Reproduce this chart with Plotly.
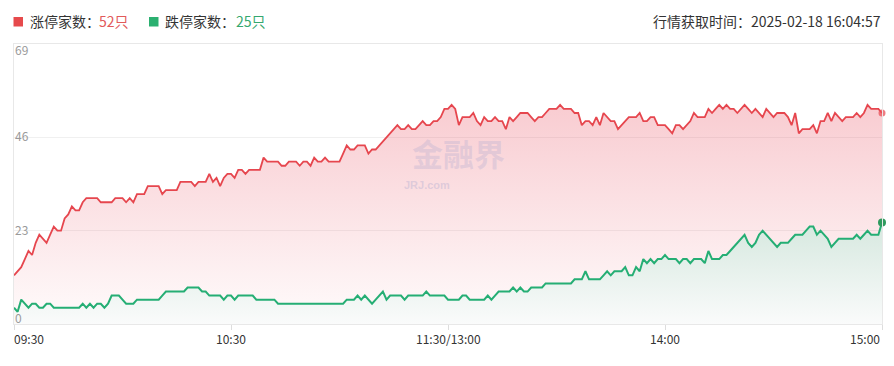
import plotly.graph_objects as go

# minutes since 09:30 (trading minutes; 11:30/13:00 merged at 120)
minutes = list(range(241))

limit_up = [
    12, 13, 14, 16, 18, 17, 20, 22, 21, 20, 22, 24, 23, 23, 26, 27, 29, 28, 28, 30,
    31, 31, 31, 31, 30, 30, 30, 30, 31, 31, 31, 30, 31, 30, 32, 32, 32, 34, 34, 34,
    34, 32, 33, 33, 33, 33, 35, 35, 35, 35, 34, 35, 35, 35, 37, 35, 36, 34, 36, 37,
    37, 36, 38, 38, 37, 38, 38, 38, 38, 41, 40, 40, 40, 40, 39, 39, 40, 40, 40, 39,
    40, 40, 39, 41, 40, 40, 41, 40, 40, 40, 40, 42, 44, 43, 43, 44, 44, 44, 42, 43,
    43, 44, 45, 46, 47, 48, 49, 48, 48, 49, 48, 48, 49, 50, 49, 49, 50, 50, 51, 53,
    53, 54, 53, 49, 51, 51, 51, 52, 50, 49, 51, 50, 50, 51, 50, 50, 48, 51, 50, 51,
    52, 52, 52, 51, 50, 51, 51, 52, 53, 53, 53, 54, 53, 53, 53, 52, 52, 49, 50, 50,
    49, 51, 49, 52, 51, 50, 50, 48, 49, 50, 51, 51, 51, 52, 50, 50, 51, 51, 49, 49,
    49, 48, 47, 49, 49, 48, 49, 50, 52, 51, 51, 51, 53, 52, 53, 54, 53, 54, 53, 53,
    52, 53, 54, 53, 52, 53, 52, 51, 53, 52, 51, 52, 52, 52, 51, 49, 52, 47, 48, 48,
    48, 49, 47, 50, 50, 52, 50, 52, 51, 50, 51, 51, 51, 52, 51, 52, 54, 53, 53, 53,
    52,
]

limit_down = [
    4, 3, 6, 5, 4, 5, 5, 4, 4, 5, 5, 4, 4, 4, 4, 4, 4, 4, 4, 5,
    4, 5, 4, 5, 5, 4, 5, 7, 7, 7, 6, 5, 5, 5, 6, 6, 6, 6, 6, 6,
    6, 7, 8, 8, 8, 8, 8, 8, 9, 9, 9, 9, 8, 8, 7, 7, 7, 7, 6, 7,
    7, 6, 7, 7, 7, 7, 7, 6, 6, 6, 6, 6, 6, 5, 5, 5, 5, 5, 5, 5,
    5, 5, 5, 5, 5, 5, 5, 5, 5, 5, 5, 5, 6, 6, 6, 7, 6, 7, 6, 5,
    6, 7, 8, 6, 7, 7, 7, 7, 6, 7, 7, 7, 7, 7, 8, 7, 7, 7, 7, 7,
    6, 6, 6, 6, 7, 7, 6, 6, 6, 6, 6, 7, 6, 7, 8, 8, 8, 8, 9, 8,
    9, 8, 8, 9, 9, 9, 9, 10, 10, 10, 10, 10, 10, 10, 10, 11, 11, 11, 13, 11,
    11, 11, 11, 12, 13, 12, 13, 13, 13, 14, 12, 12, 14, 13, 16, 15, 16, 15, 16, 16,
    17, 16, 16, 16, 15, 16, 16, 15, 16, 16, 16, 15, 18, 16, 16, 16, 17, 17, 18, 19,
    20, 21, 22, 20, 19, 20, 22, 23, 22, 21, 20, 19, 20, 20, 20, 21, 22, 22, 22, 23,
    24, 24, 22, 23, 22, 21, 19, 20, 21, 21, 21, 21, 21, 22, 21, 22, 23, 22, 22, 22,
    25,
]

x_tick_vals = [0, 60, 120, 180, 240]
x_tick_text = ["09:30", "10:30", "11:30/13:00", "14:00", "15:00"]
y_tick_vals = [0, 23, 46, 69]

up_label = "涨停家数："
down_label = "跌停家数："
up_count = "52只"
down_count = "25只"
time_text = "行情获取时间：2025-02-18 16:04:57"

RED = "#e6464e"
GREEN = "#25ae74"
FONT = "Noto Sans CJK SC, Noto Sans, sans-serif"

# page body has an 8px margin; figure sized / laid out to compensate
OFF = 8
W, H = 894 - OFF, 366 - OFF
L, R, T, B = 14 - OFF, 12, 44 - OFF, 42


def px_x(p):
    """page pixel x -> paper coordinate"""
    return (p - OFF - L) / (W - L - R)


def px_y(p):
    """page pixel y -> paper coordinate"""
    return (H - B - (p - OFF)) / (H - T - B)


fig = go.Figure()

fig.add_trace(go.Scatter(
    x=minutes, y=limit_up, mode="lines",
    line=dict(color=RED, width=1.8),
    fill="tozeroy",
    fillgradient=dict(type="vertical",
                      colorscale=[[0, "rgba(232,72,90,0.02)"], [1, "rgba(232,72,90,0.28)"]]),
    hoverinfo="skip", showlegend=False,
))
fig.add_trace(go.Scatter(
    x=minutes, y=limit_down, mode="lines",
    line=dict(color=GREEN, width=2),
    fill="tozeroy",
    fillgradient=dict(type="vertical",
                      colorscale=[[0, "rgb(250,251,251)"], [1, "rgb(214,232,223)"]]),
    hoverinfo="skip", showlegend=False,
))
# end markers
fig.add_trace(go.Scatter(
    x=[minutes[-1]], y=[limit_up[-1]], mode="markers",
    marker=dict(color="rgba(232,80,88,0.75)", size=7, line=dict(width=0)),
    hoverinfo="skip", showlegend=False, cliponaxis=False,
))
fig.add_trace(go.Scatter(
    x=[minutes[-1]], y=[limit_down[-1]], mode="markers",
    marker=dict(color="#2f9a5e", size=8, line=dict(width=0)),
    hoverinfo="skip", showlegend=False, cliponaxis=False,
))

annotations = []
# y labels
y_shifts = {0: 7, 23: 1, 46: 2, 69: -5}
for v in y_tick_vals:
    annotations.append(dict(
        x=0, xref="paper", y=v, yref="y", text=str(v), showarrow=False,
        xanchor="left", yanchor="middle", xshift=-1, yshift=y_shifts[v],
        font=dict(family=FONT, size=12, color="#9a9a9a"),
    ))
# x labels
for i, (v, t) in enumerate(zip(x_tick_vals, x_tick_text)):
    anchor = "left" if i == 0 else ("right" if i == len(x_tick_vals) - 1 else "center")
    annotations.append(dict(
        x=v, xref="x", y=0, yref="paper", text=t, showarrow=False,
        xanchor=anchor, yanchor="top", yshift=-4, xshift=-2 if i == 0 else 0,
        font=dict(family=FONT, size=12, color="#333333"),
    ))
# watermark
annotations.append(dict(
    x=122.8, xref="x", y=42.2, yref="y", text="<b>金融界</b>",
    showarrow=False, xanchor="center", yanchor="middle",
    font=dict(family=FONT, size=31, color="rgba(178,172,208,0.33)"),
))
annotations.append(dict(
    x=114.3, xref="x", y=34.2, yref="y", text="<b>JRJ.com</b>",
    showarrow=False, xanchor="center", yanchor="middle",
    font=dict(family="Liberation Sans, sans-serif", size=11, color="rgba(178,172,208,0.4)"),
))

# header legend / time
header = [
    (28, up_label, "#333333", "left"),
    (97, up_count, "#e25a5a", "left"),
    (163, down_label, "#333333", "left"),
    (234, down_count, "#35a86f", "left"),
    (883, time_text, "#333333", "right"),
]
for xpx, txt, col, anc in header:
    annotations.append(dict(
        x=px_x(xpx), xref="paper", y=px_y(21), yref="paper",
        text=txt, showarrow=False, xanchor=anc, yanchor="middle",
        font=dict(family=FONT, size=14, color=col),
    ))

shapes = []
for x0, col in [(13.5, "#e64a4c"), (149, "#2bb070")]:
    shapes.append(dict(
        type="rect", xref="paper", yref="paper",
        x0=px_x(x0), x1=px_x(x0 + 9.5), y0=px_y(26.5), y1=px_y(17),
        fillcolor=col, line=dict(width=0), layer="above",
    ))

fig.update_layout(
    width=W, height=H,
    margin=dict(l=L, r=R, t=T, b=B),
    paper_bgcolor="white", plot_bgcolor="white",
    xaxis=dict(range=[0, 240], tickvals=x_tick_vals, showticklabels=False,
               showgrid=False, zeroline=False, ticks="outside", ticklen=5,
               tickcolor="#dddddd", showline=True, linecolor="#e8e8e8",
               linewidth=1, mirror=True, fixedrange=True),
    yaxis=dict(range=[0, 69], tickvals=y_tick_vals, showticklabels=False,
               showgrid=True, gridcolor="#f0f0f0", zeroline=False,
               showline=True, linecolor="#e8e8e8", linewidth=1, mirror=True,
               fixedrange=True),
    annotations=annotations,
    shapes=shapes,
    showlegend=False,
)

fig.write_html("out.html")
